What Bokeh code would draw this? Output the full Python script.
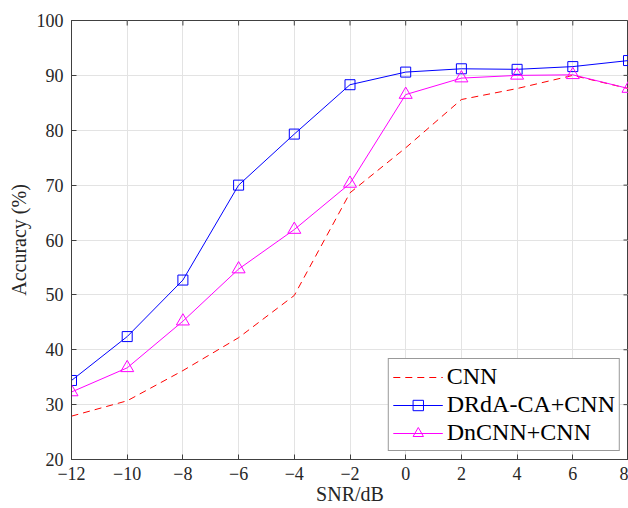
import math
from bokeh.plotting import figure
from bokeh.models import FixedTicker, Legend, LegendItem, Range1d
from bokeh.embed import file_html
from bokeh.resources import INLINE

snr = [-12, -10, -8, -6, -4, -2, 0, 2, 4, 6, 8]
cnn = [27.9, 30.7, 36.2, 42.2, 49.9, 68.6, 76.8, 85.6, 87.6, 90.0, 87.6]
drda = [34.4, 42.4, 52.7, 70.0, 79.3, 88.3, 90.6, 91.2, 91.1, 91.6, 92.7]
dncnn = [32.3, 36.7, 45.2, 54.7, 61.9, 70.3, 86.5, 89.5, 90.0, 90.1, 87.6]
x_ticks = [-12, -10, -8, -6, -4, -2, 0, 2, 4, 6, 8]
y_ticks = [20, 30, 40, 50, 60, 70, 80, 90, 100]

FONT = "Liberation Serif"
AX = "#404040"

p = figure(width=628, height=508, output_backend="svg", toolbar_location=None,
           x_range=Range1d(x_ticks[0], x_ticks[-1]), y_range=Range1d(y_ticks[0], y_ticks[-1]),
           min_border_left=71, min_border_right=0, min_border_top=20, min_border_bottom=49)
p.background_fill_color = "white"
p.border_fill_color = "white"
p.outline_line_color = AX
p.outline_line_width = 1

for ax in (p.xaxis[0], p.yaxis[0]):
    ax.major_label_text_font = FONT
    ax.major_label_text_font_size = "18px"
    ax.major_label_text_color = "#262626"
    ax.axis_label_text_font = FONT
    ax.axis_label_text_font_size = "20px"
    ax.axis_label_text_font_style = "normal"
    ax.axis_label_text_color = "#262626"
    ax.axis_line_color = AX
    ax.major_tick_line_color = AX
    ax.major_tick_in = 5
    ax.major_tick_out = 0
    ax.minor_tick_line_color = None
    ax.axis_label_standoff = 0

p.xaxis[0].ticker = FixedTicker(ticks=x_ticks)
p.yaxis[0].ticker = FixedTicker(ticks=y_ticks)
p.xaxis[0].axis_label = "SNR/dB"
p.yaxis[0].axis_label = "Accuracy (%)"
p.xaxis[0].major_label_standoff = 7
p.yaxis[0].major_label_standoff = 8
p.yaxis[0].axis_label_standoff = 4

p.xgrid.ticker = FixedTicker(ticks=x_ticks)
p.ygrid.ticker = FixedTicker(ticks=y_ticks)
p.grid.grid_line_color = "#e3e3e3"
p.grid.grid_line_width = 1

# inward ticks on the top and right frame edges (half of each dash is clipped by the frame)
p.scatter(x_ticks, [y_ticks[-1]] * len(x_ticks), marker="dash", angle=math.pi / 2,
          size=10, line_color=AX, line_width=1)
p.scatter([x_ticks[-1]] * len(y_ticks), y_ticks, marker="dash",
          size=10, line_color=AX, line_width=1)

r1 = p.line(snr, cnn, line_color="#ff0000", line_width=1, line_dash="7 5")
r2 = p.line(snr, drda, line_color="#0000ff", line_width=1)
r2m = p.scatter(snr, drda, marker="square", size=10, line_color="#0000ff",
                fill_color=None, line_width=1)
r3 = p.line(snr, dncnn, line_color="#ff00ff", line_width=1)
r3m = p.scatter(snr, dncnn, marker="triangle", size=13, line_color="#ff00ff",
                fill_color=None, line_width=1)

legend = Legend(items=[
    LegendItem(label="CNN", renderers=[r1]),
    LegendItem(label="DRdA-CA+CNN", renderers=[r2, r2m]),
    LegendItem(label="DnCNN+CNN", renderers=[r3, r3m]),
], location="bottom_right")
legend.label_text_font = FONT
legend.label_text_font_size = "24px"
legend.label_text_color = "#000000"
legend.glyph_width = 50
legend.glyph_height = 26
legend.label_height = 26
legend.label_standoff = 4
legend.spacing = 1
legend.padding = 4
legend.margin = 8
legend.border_line_color = "#333333"
legend.border_line_width = 1
legend.background_fill_alpha = 1
p.add_layout(legend, "center")

open("out.html", "w").write(file_html(p, INLINE))
